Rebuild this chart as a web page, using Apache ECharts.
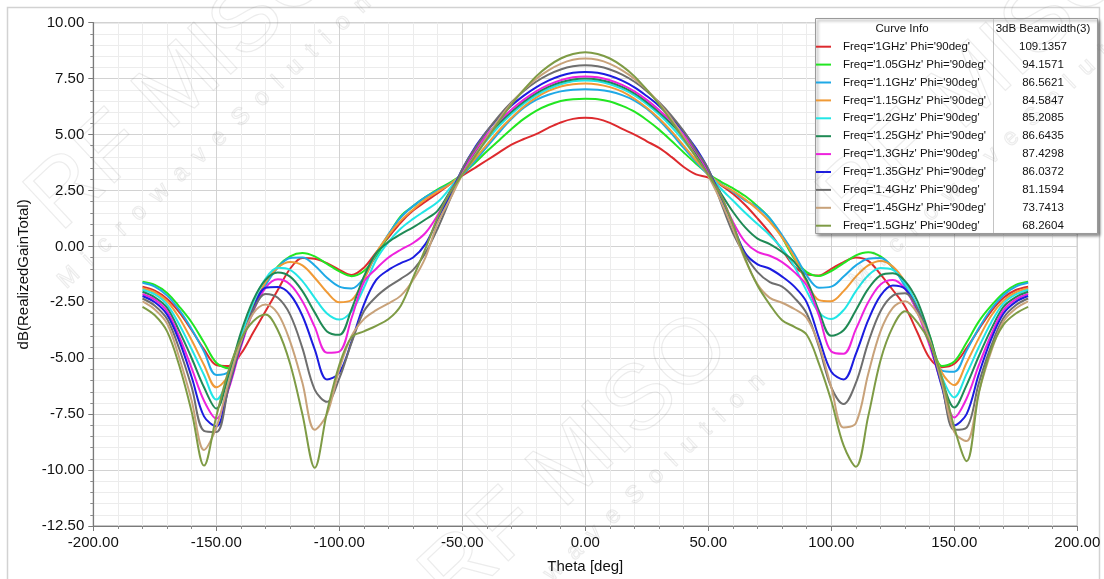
<!DOCTYPE html>
<html><head><meta charset="utf-8">
<script src="https://cdn.jsdelivr.net/npm/echarts@6/dist/echarts.min.js"></script>
<style>html,body{margin:0;padding:0;background:#fff;}#c{width:1104px;height:579px;}</style>
</head><body><div id="c"></div>
<script>
// Theta sample positions [deg]
const theta = [-180,-175,-170,-165,-160,-155,-150,-145,-140,-135,-130,-125,-120,-115,-110,-105,-100,-95,-90,-85,-80,-75,-70,-65,-60,-55,-50,-45,-40,-35,-30,-25,-20,-15,-10,-5,0,
5,10,15,20,25,30,35,40,45,50,55,60,65,70,75,80,85,90,95,100,105,110,115,120,125,130,135,140,145,150,155,160,165,170,175,180];

// dB(RealizedGainTotal) per frequency
const g1_00 = [-1.8,-1.98,-2.35,-2.95,-3.75,-4.6,-5.3,-5.35,-4.8,-3.85,-2.9,-1.95,-1.0,-0.52,-0.55,-0.75,-1.05,-1.28,-0.95,-0.27,0.4,1.07,1.6,2.0,2.38,2.78,3.16,3.5,3.85,4.2,4.55,4.8,5.02,5.3,5.54,5.7,5.75,
5.7,5.52,5.25,5.0,4.7,4.4,4.0,3.55,3.22,3.08,2.75,2.35,1.85,1.25,0.6,-0.15,-0.9,-1.25,-1.3,-1.0,-0.7,-0.5,-0.65,-1.25,-1.95,-2.7,-3.85,-5.0,-5.4,-5.25,-4.55,-3.7,-2.9,-2.3,-1.95,-1.8];
const g1_05 = [-1.58,-1.72,-2.08,-2.7,-3.4,-4.3,-5.2,-5.45,-4.1,-2.7,-1.65,-0.9,-0.45,-0.3,-0.45,-0.78,-1.12,-1.33,-1.1,-0.45,0.5,1.35,1.8,2.2,2.55,2.85,3.22,3.72,4.25,4.75,5.25,5.7,6.06,6.32,6.5,6.58,6.6,
6.58,6.48,6.28,6.02,5.65,5.22,4.72,4.2,3.7,3.25,2.9,2.6,2.25,1.8,1.25,0.4,-0.55,-1.15,-1.32,-1.1,-0.75,-0.4,-0.26,-0.45,-0.95,-1.7,-2.7,-4.0,-5.35,-5.15,-4.3,-3.35,-2.65,-2.08,-1.72,-1.58];
const g1_10 = [-1.63,-1.8,-2.2,-2.85,-3.7,-4.7,-5.75,-5.6,-4.3,-2.85,-1.75,-0.95,-0.52,-0.5,-0.85,-1.4,-1.8,-1.88,-1.4,-0.35,0.55,1.3,1.8,2.2,2.5,2.8,3.2,3.8,4.45,5.1,5.7,6.2,6.55,6.78,6.93,7.0,7.02,
7.0,6.92,6.76,6.52,6.15,5.65,5.05,4.4,3.78,3.2,2.8,2.45,2.05,1.75,1.25,0.5,-0.35,-1.3,-1.85,-1.8,-1.35,-0.85,-0.55,-0.52,-0.95,-1.8,-2.9,-4.2,-5.55,-5.6,-4.65,-3.65,-2.8,-2.18,-1.8,-1.63];
const g1_15 = [-1.87,-2.05,-2.45,-3.2,-4.2,-5.3,-6.3,-5.75,-4.2,-2.75,-1.6,-0.95,-0.7,-0.85,-1.4,-2.05,-2.5,-2.4,-1.5,-0.3,0.5,1.15,1.65,2.1,2.45,2.78,3.25,3.9,4.55,5.2,5.75,6.25,6.65,6.95,7.15,7.25,7.28,
7.24,7.12,6.92,6.6,6.2,5.72,5.15,4.5,3.85,3.25,2.78,2.48,2.1,1.65,1.1,0.4,-0.5,-1.6,-2.4,-2.45,-2.0,-1.35,-0.85,-0.65,-0.9,-1.6,-2.75,-4.15,-5.65,-6.2,-5.2,-4.1,-3.1,-2.42,-2.05,-1.87];
const g1_20 = [-1.94,-2.15,-2.6,-3.5,-4.6,-5.75,-6.85,-5.9,-4.1,-2.5,-1.45,-0.96,-1.05,-1.55,-2.3,-3.0,-3.27,-2.9,-1.85,-0.6,0.2,0.8,1.23,1.6,1.98,2.6,3.3,4.05,4.75,5.38,5.92,6.38,6.75,7.04,7.25,7.38,7.42,
7.38,7.25,7.04,6.75,6.36,5.9,5.35,4.72,4.02,3.3,2.6,2.05,1.5,1.0,0.5,-0.1,-0.9,-2.0,-2.95,-3.25,-2.85,-2.0,-1.3,-0.97,-1.05,-1.65,-2.7,-4.15,-5.85,-6.75,-5.7,-4.5,-3.4,-2.55,-2.15,-1.94];
const g1_25 = [-2.03,-2.28,-2.75,-3.8,-5.0,-6.3,-7.25,-5.75,-3.85,-2.4,-1.5,-1.17,-1.35,-2.0,-2.95,-3.8,-3.95,-2.8,-1.35,-0.3,0.2,0.55,0.85,1.2,1.6,2.45,3.3,4.15,4.9,5.5,6.02,6.47,6.84,7.13,7.34,7.46,7.5,
7.46,7.34,7.13,6.84,6.45,6.0,5.48,4.88,4.15,3.3,2.4,1.55,0.85,0.35,0.1,-0.25,-0.7,-1.5,-2.9,-4.0,-3.75,-2.85,-1.9,-1.3,-1.2,-1.55,-2.45,-4.0,-5.95,-7.2,-6.2,-4.9,-3.7,-2.7,-2.27,-2.03];
const g1_30 = [-2.13,-2.38,-2.9,-4.05,-5.45,-6.9,-7.7,-6.4,-4.5,-2.9,-1.85,-1.47,-1.7,-2.45,-3.6,-4.75,-4.7,-3.2,-1.6,-1.0,-0.5,-0.15,0.15,0.6,1.4,2.4,3.35,4.25,5.0,5.6,6.12,6.56,6.93,7.22,7.43,7.56,7.6,
7.56,7.43,7.22,6.93,6.55,6.1,5.58,4.98,4.25,3.35,2.3,1.1,0.2,-0.25,-0.42,-0.7,-1.15,-1.75,-3.1,-4.7,-4.8,-3.7,-2.5,-1.7,-1.5,-1.9,-2.95,-4.45,-6.2,-7.65,-6.8,-5.3,-3.95,-2.85,-2.37,-2.13];
const g1_35 = [-2.22,-2.5,-3.05,-4.25,-5.85,-7.6,-8.05,-6.3,-4.4,-2.8,-1.85,-1.82,-2.15,-3.1,-4.6,-5.95,-5.65,-4.25,-2.6,-1.5,-1.05,-0.75,-0.5,0.1,1.2,2.3,3.45,4.4,5.15,5.78,6.3,6.74,7.11,7.41,7.63,7.76,7.8,
7.76,7.63,7.41,7.11,6.72,6.28,5.75,5.12,4.38,3.45,2.2,0.95,-0.3,-0.8,-1.0,-1.35,-1.8,-2.5,-4.1,-5.6,-5.95,-4.8,-3.3,-2.2,-1.75,-1.9,-2.8,-4.3,-6.3,-8.0,-7.5,-5.7,-4.15,-3.0,-2.48,-2.22];
const g1_40 = [-2.33,-2.65,-3.25,-4.6,-6.3,-8.25,-8.3,-6.3,-4.35,-2.85,-2.13,-2.3,-3.05,-4.55,-6.4,-6.95,-5.9,-4.3,-2.9,-2.25,-1.8,-1.45,-1.05,-0.3,0.8,2.1,3.45,4.35,5.15,5.85,6.45,6.95,7.36,7.68,7.91,8.05,8.1,
8.05,7.91,7.68,7.36,6.94,6.44,5.85,5.15,4.3,3.45,2.0,0.6,-0.4,-1.15,-1.6,-1.8,-2.3,-3.0,-4.5,-6.3,-7.05,-6.1,-4.3,-2.9,-2.2,-2.1,-2.8,-4.2,-6.2,-8.2,-8.1,-6.1,-4.45,-3.2,-2.63,-2.33];
const g1_45 = [-2.46,-2.82,-3.45,-5.0,-6.9,-9.1,-8.1,-6.05,-4.25,-3.0,-2.6,-3.0,-4.25,-6.1,-8.2,-7.5,-5.5,-4.0,-3.25,-2.85,-2.55,-2.2,-1.5,-0.5,1.05,2.1,3.2,4.05,4.88,5.7,6.4,7.0,7.49,7.87,8.16,8.34,8.4,
8.34,8.16,7.87,7.49,7.0,6.4,5.7,4.88,4.0,3.15,2.05,0.8,-0.6,-1.7,-2.3,-2.52,-2.8,-3.2,-4.4,-6.3,-8.1,-7.9,-5.7,-3.8,-2.75,-2.45,-3.0,-4.2,-6.1,-8.3,-8.7,-6.5,-4.7,-3.35,-2.78,-2.46];
const g1_50 = [-2.7,-3.08,-3.8,-5.35,-7.4,-9.8,-7.6,-5.55,-4.15,-3.35,-3.05,-3.75,-5.25,-7.5,-9.9,-7.4,-5.3,-4.05,-3.8,-3.55,-3.25,-2.65,-1.4,-0.1,1.3,2.4,3.2,4.0,4.8,5.6,6.35,7.0,7.6,8.06,8.4,8.6,8.68,
8.6,8.4,8.06,7.6,7.0,6.35,5.6,4.8,4.0,3.2,2.3,1.0,-0.55,-1.75,-2.6,-3.3,-3.6,-3.95,-5.25,-6.9,-8.9,-9.85,-7.6,-5.1,-3.6,-2.9,-3.4,-4.3,-5.9,-8.1,-9.6,-6.55,-4.6,-3.5,-3.0,-2.7];

const curveNames = ["Freq='1GHz' Phi='90deg'","Freq='1.05GHz' Phi='90deg'","Freq='1.1GHz' Phi='90deg'","Freq='1.15GHz' Phi='90deg'","Freq='1.2GHz' Phi='90deg'","Freq='1.25GHz' Phi='90deg'","Freq='1.3GHz' Phi='90deg'","Freq='1.35GHz' Phi='90deg'","Freq='1.4GHz' Phi='90deg'","Freq='1.45GHz' Phi='90deg'","Freq='1.5GHz' Phi='90deg'"];
const beamwidth = ['109.1357','94.1571','86.5621','84.5847','85.2085','86.6435','87.4298','86.0372','81.1594','73.7413','68.2604'];
const curveValues = [g1_00,g1_05,g1_10,g1_15,g1_20,g1_25,g1_30,g1_35,g1_40,g1_45,g1_50];
const colors = ['#dd2a2e','#22e622','#1fa9e6','#f09a36','#22e6e6','#1f8a55','#ee22dd','#1c1ce0','#6e6e6e','#c8a27a','#7e9b45'];

const xAxisRange = {min:-200, max:200, interval:50};
const yAxisRange = {min:-12.5, max:10, interval:2.5};
const headerLabels = ['Curve Info','3dB Beamwidth(3)'];
const watermarkBig = 'RF MISO';
const watermarkSmall = ['Microwave','Solution'];

const FONT = 'Arial, "Liberation Sans", sans-serif';
const chart = echarts.init(document.getElementById('c'), null, {renderer:'canvas'});

const series = curveValues.map((vals, i) => ({
  name: curveNames[i], type:'line', smooth:0.35, showSymbol:false, symbol:'none',
  lineStyle:{width:2, color:colors[i]}, itemStyle:{color:colors[i]},
  data: theta.map((t, k) => [t, vals[k]]), z: 2 + i/100, animation:false
}));

// legend table geometry
const box = {x:815, y:18, w:282, h:215, sep:993, row0:46.7, dy:17.9, head:29};
const LFONT = '11.5px ' + FONT;
const graphics = [
  {type:'rect', shape:{x:7.5, y:7.5, width:1092, height:640}, style:{fill:'none', stroke:'#d2d2d2', lineWidth:1.5}, z:0, silent:true},
  {type:'rect', shape:{x:box.x+0.5, y:box.y+0.5, width:box.w, height:box.h}, style:{fill:'#fff', stroke:'#9a9a9a', lineWidth:1, shadowBlur:3, shadowOffsetX:2, shadowOffsetY:2, shadowColor:'rgba(0,0,0,0.45)'}, z:50},
  {type:'line', shape:{x1:box.sep+0.5, y1:box.y+1, x2:box.sep+0.5, y2:box.y+box.h}, style:{stroke:'#c4c4c4', lineWidth:1}, z:51},
  {type:'text', x:902, y:box.head, style:{text:headerLabels[0], font:LFONT, fill:'#111', textAlign:'center', textVerticalAlign:'middle'}, z:52},
  {type:'text', x:1043, y:box.head, style:{text:headerLabels[1], font:LFONT, fill:'#111', textAlign:'center', textVerticalAlign:'middle'}, z:52}
];
beamwidth.forEach((b, i) => graphics.push({type:'text', x:1043, y:box.row0 + i*box.dy,
  style:{text:b, font:LFONT, fill:'#111', textAlign:'center', textVerticalAlign:'middle'}, z:52}));

// faint outlined watermark overlay (three tiles)
const wmAngle = 43 * Math.PI / 180;
const ux = Math.cos(wmAngle), uy = -Math.sin(wmAngle), nx = Math.sin(wmAngle), ny = Math.cos(wmAngle);
[[183,84],[577,462],[975,84]].forEach(([cx, cy]) => {
  const wmStyle = {fill:'none', stroke:'rgba(120,120,120,0.14)', lineWidth:1.2};
  graphics.push({type:'text', x:cx, y:cy, rotation:wmAngle, silent:true, z:100,
    style:Object.assign({text:watermarkBig, font:'92px '+FONT, textAlign:'center', textVerticalAlign:'middle'}, wmStyle)});
  const sx = cx + 12*ux + 64*nx, sy = cy + 12*uy + 64*ny;
  graphics.push({type:'text', x:sx, y:sy, rotation:wmAngle, silent:true, z:100,
    style:Object.assign({text:watermarkSmall[1].split('').join('  '), font:'24px '+FONT, textAlign:'left', textVerticalAlign:'middle'}, wmStyle)});
  graphics.push({type:'text', x:sx - 16*ux, y:sy - 16*uy, rotation:wmAngle, silent:true, z:100,
    style:Object.assign({text:watermarkSmall[0].split('').join('  '), font:'24px '+FONT, textAlign:'right', textVerticalAlign:'middle'}, wmStyle)});
});

const option = {
  animation:false,
  backgroundColor:'#fff',
  color: colors,
  textStyle:{fontFamily:FONT},
  grid:{left:93.3, right:1104-1077.3, top:22.7, bottom:579-527.7, show:true, borderColor:'#8c8c8c', borderWidth:1, containLabel:false},
  legend:{orient:'vertical', left:816, top:box.row0 - box.dy/2, padding:0, itemWidth:15, itemHeight:2, itemGap:0,
    icon:'rect', selectedMode:false, z:60, data:curveNames,
    textStyle:{fontSize:11.5, fontFamily:FONT, color:'#111', lineHeight:box.dy, height:box.dy, padding:[0,0,0,7]}},
  xAxis:{type:'value', min:xAxisRange.min, max:xAxisRange.max, interval:xAxisRange.interval,
    name:'Theta [deg]', nameLocation:'middle', nameGap:33, nameTextStyle:{fontSize:15, color:'#111', fontFamily:FONT},
    axisLine:{show:true, onZero:false, lineStyle:{color:'#7a7a7a', width:1.2}},
    axisTick:{show:true, inside:false, length:5, lineStyle:{color:'#7a7a7a'}},
    minorTick:{show:true, splitNumber:5, length:3, lineStyle:{color:'#8a8a8a'}},
    axisLabel:{fontSize:15, color:'#111', margin:9, formatter:v => v.toFixed(2)},
    splitLine:{show:true, lineStyle:{color:'#d2d2d2', width:1}},
    minorSplitLine:{show:true, lineStyle:{color:'#ececec', width:1}}},
  yAxis:{type:'value', min:yAxisRange.min, max:yAxisRange.max, interval:yAxisRange.interval,
    name:'dB(RealizedGainTotal)', nameLocation:'middle', nameGap:58, nameRotate:90, nameTextStyle:{fontSize:15, color:'#111', fontFamily:FONT},
    axisLine:{show:true, onZero:false, lineStyle:{color:'#7a7a7a', width:1.2}},
    axisTick:{show:true, inside:false, length:5, lineStyle:{color:'#7a7a7a'}},
    minorTick:{show:true, splitNumber:5, length:3, lineStyle:{color:'#8a8a8a'}},
    axisLabel:{fontSize:15, color:'#111', margin:9, formatter:v => v.toFixed(2)},
    splitLine:{show:true, lineStyle:{color:'#d2d2d2', width:1}},
    minorSplitLine:{show:true, lineStyle:{color:'#ececec', width:1}}},
  graphic: graphics,
  series: series
};
chart.setOption(option);
</script></body></html>
